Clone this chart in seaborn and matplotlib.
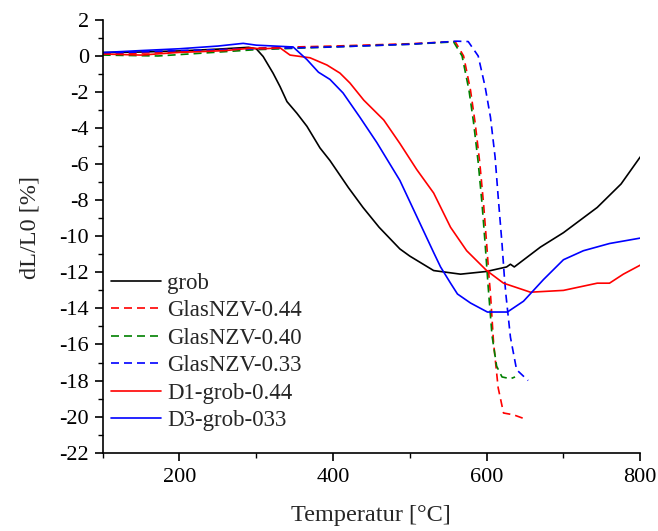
import matplotlib
matplotlib.use("Agg")
import matplotlib.pyplot as plt
import seaborn as sns
import pandas as pd
from matplotlib.ticker import MultipleLocator

sns.set_theme(style="ticks")
plt.rcParams['font.family'] = ['Liberation Serif', 'DejaVu Serif']

# --- data ---
grob_T = [100, 150, 200, 250, 270, 290, 300, 309, 322, 331, 340, 353, 366, 383, 396, 420, 439, 460, 487, 500, 531, 566, 600, 626, 631, 636, 670, 700, 744, 775, 800]
grob_V = [0.19, 0.22, 0.28, 0.38, 0.43, 0.48, 0.4, -0.03, -0.96, -1.7, -2.53, -3.18, -3.9, -5.1, -5.8, -7.3, -8.4, -9.5, -10.7, -11.1, -11.9, -12.1, -11.95, -11.7, -11.55, -11.7, -10.6, -9.8, -8.4, -7.1, -5.6]

g44_T = [100, 200, 292, 350, 400, 500, 559, 570, 579, 585, 591, 596, 600, 603, 605, 609, 615, 622, 635, 648]
g44_V = [0.1, 0.22, 0.43, 0.5, 0.55, 0.68, 0.8, 0.0, -1.9, -3.7, -5.9, -8.2, -10.4, -12.2, -13.2, -15.9, -18.4, -19.8, -19.9, -20.1]

g40_T = [100, 172, 300, 400, 500, 557, 568, 577, 583, 589, 594, 598, 602, 607, 613, 620, 631, 637]
g40_V = [0.05, 0.0, 0.35, 0.5, 0.65, 0.78, 0.0, -1.9, -3.7, -5.9, -8.2, -10.4, -12.8, -15.5, -17.2, -17.8, -17.9, -17.8]

g33_T = [100, 200, 300, 400, 500, 561, 576, 589, 598, 605, 611, 615, 620, 623, 625, 631, 639, 654]
g33_V = [0.15, 0.3, 0.4, 0.5, 0.65, 0.82, 0.8, 0.0, -1.7, -3.4, -5.6, -7.8, -10.4, -12.2, -13.2, -15.6, -17.4, -18.0]

d1_T = [100, 150, 200, 227, 260, 292, 310, 331, 344, 370, 392, 409, 422, 440, 466, 487, 509, 531, 553, 574, 600, 622, 657, 700, 744, 760, 778, 800]
d1_V = [0.11, 0.05, 0.2, 0.24, 0.3, 0.43, 0.4, 0.45, 0.05, -0.1, -0.5, -0.95, -1.5, -2.45, -3.55, -4.85, -6.3, -7.6, -9.5, -10.8, -11.9, -12.6, -13.1, -13.0, -12.6, -12.6, -12.1, -11.6]

d3_T = [100, 150, 200, 250, 283, 300, 348, 366, 381, 396, 413, 435, 457, 487, 509, 531, 540, 553, 562, 579, 601, 627, 648, 674, 700, 726, 760, 800]
d3_V = [0.19, 0.3, 0.4, 0.55, 0.7, 0.6, 0.5, -0.2, -0.9, -1.3, -2.05, -3.4, -4.8, -6.9, -8.9, -10.9, -11.7, -12.6, -13.2, -13.7, -14.2, -14.2, -13.6, -12.4, -11.3, -10.8, -10.4, -10.1]

labels = ["grob", "GlasNZV-0.44", "GlasNZV-0.40", "GlasNZV-0.33", "D1-grob-0.44", "D3-grob-033"]
series = [(grob_T, grob_V), (g44_T, g44_V), (g40_T, g40_V), (g33_T, g33_V), (d1_T, d1_V), (d3_T, d3_V)]
colors = ["black", "red", "green", "blue", "red", "blue"]
dash = (0, (4.8, 3))
styles = ["-", dash, dash, dash, "-", "-"]

x_ticks = [200, 400, 600, 800]
y_ticks = list(range(-22, 3, 2))

fig = plt.figure(figsize=(6.58, 5.31), dpi=100)
ax = fig.add_axes([0.156, 0.1475, 0.817, 0.815])

for (T, V), lab, c, ls in zip(series, labels, colors, styles):
    df = pd.DataFrame({"T": T, "V": V})
    sns.lineplot(data=df, x="T", y="V", ax=ax, color=c, linestyle=ls, lw=1.2,
                 label=lab, sort=False, estimator=None)

ax.set_xlim(100, 800)
ax.set_ylim(-22, 2)
ax.set_xticks(x_ticks)
ax.set_yticks(y_ticks)
ax.set_yticklabels([str(v) for v in y_ticks])
ax.xaxis.set_minor_locator(MultipleLocator(100))
ax.yaxis.set_minor_locator(MultipleLocator(1))
ax.tick_params(which="major", direction="out", length=6, width=1.2, labelsize=16, color="black", labelcolor="black")
ax.tick_params(axis="x", which="major", pad=5)
ax.tick_params(axis="y", which="major", pad=4)
ax.tick_params(which="minor", direction="out", length=3.5, width=1.0, color="black")
for s in ["top", "right"]:
    ax.spines[s].set_visible(False)
for s in ["left", "bottom"]:
    ax.spines[s].set_linewidth(1.2)
    ax.spines[s].set_color("black")

ax.set_xlabel("Temperatur [°C]", fontsize=17.5)
ax.set_ylabel("dL/L0 [%]", fontsize=17.5)
ax.xaxis.set_label_coords((371 - 102.6) / 538.0, -(505 - 452.7) / 432.7)
ax.yaxis.set_label_coords(-(102.6 - 40) / 538.0, (452.7 - 228) / 432.7)

leg = ax.legend(loc="upper left", bbox_to_anchor=(0.0156, (452.7 - 273) / 432.7), frameon=False, fontsize=16.5,
                handlelength=2.2, handletextpad=0.25, labelspacing=0.28, borderaxespad=0, borderpad=0)

fig.savefig("out.png", dpi=100)
